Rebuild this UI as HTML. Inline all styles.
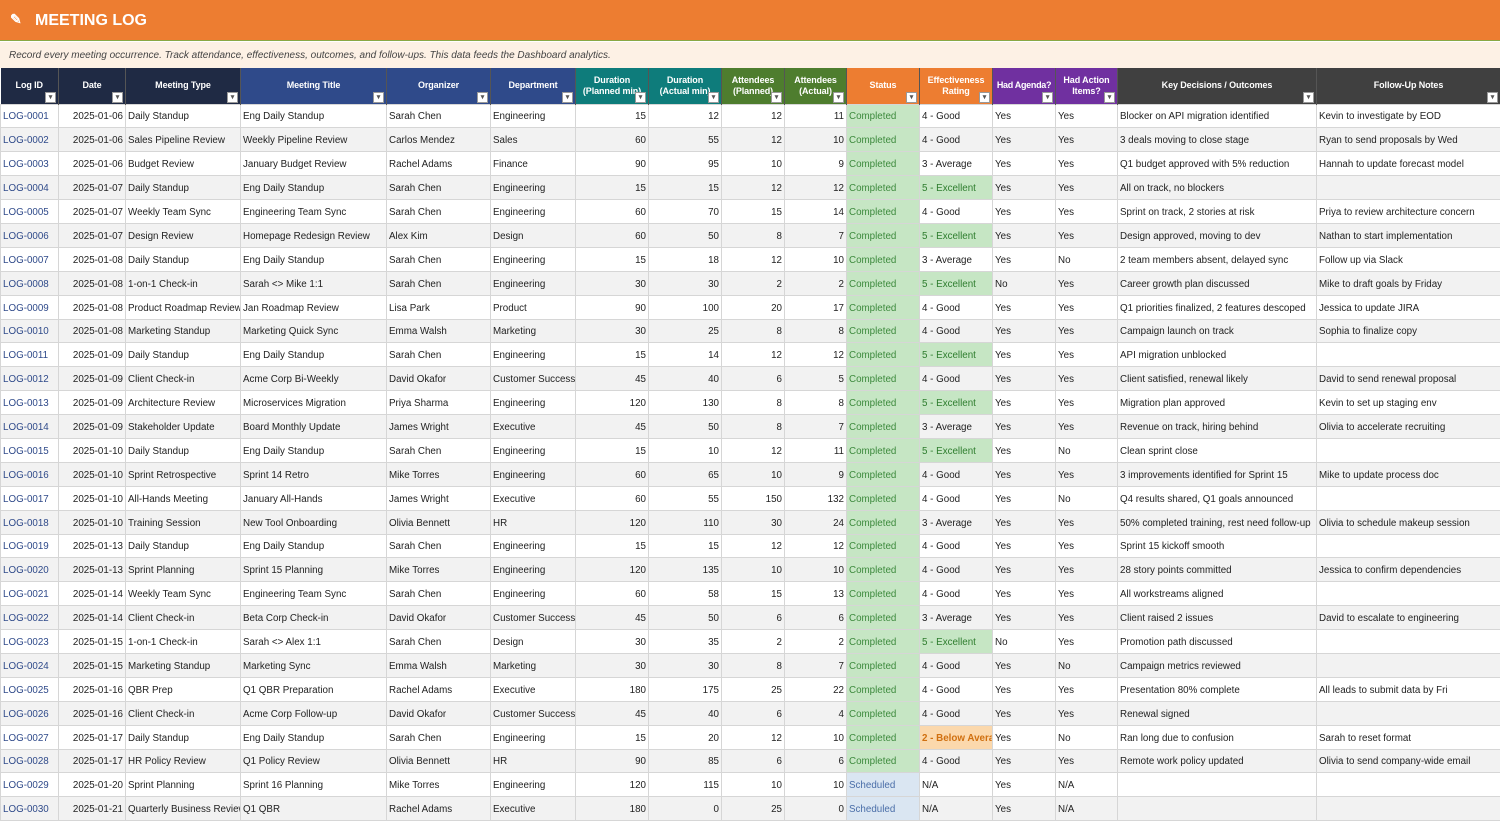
<!DOCTYPE html>
<html><head><meta charset="utf-8"><style>
*{margin:0;padding:0;box-sizing:border-box}
body{width:1500px;height:820px;overflow:hidden;background:#fff;font-family:"Liberation Sans",Arial,sans-serif;font-size:9.8px;color:#222}
.title{position:absolute;left:0;top:0;width:1500px;height:41px;background:#ED7D31;border-bottom:1px solid #8aa845;color:#fff;font-weight:bold;font-size:16px;padding:12px 0 0 35px}
.title span{position:absolute;left:10px;top:11px;font-size:14px}
.sub{position:absolute;left:0;top:42px;width:1500px;height:26px;background:#FDF1E5;font-style:italic;color:#444;font-size:10px;padding:8px 0 0 9px}
table{position:absolute;left:0;top:68px;border-collapse:collapse;table-layout:fixed;width:1500px}
th{height:36px;color:#fff;font-weight:bold;font-size:9px;text-align:center;line-height:11px;position:relative;border-right:1px solid #555;padding:0 3px;letter-spacing:-0.1px}
th i{position:absolute;right:2px;bottom:1px;width:11px;height:11px;background:#fff;border:1px solid #999;font-style:normal;color:#555;font-size:7px;line-height:9px}
td{height:23.9px;border:1px solid #d6d6d6;padding:2px 2px 0;white-space:nowrap;overflow:hidden}
tr:nth-child(odd) td{background:#F2F2F2}
td.n{text-align:right}
td.id{color:#2F4A8A}
tr td.st{background:#C6E6C4;color:#3d8a3d}
tr td.sc{background:#DAE6F2;color:#4a6ea8}
tr td.ex{background:#C6E6C4;color:#2e7d2e}
tr td.ba{background:#FBD8AC;color:#D07010;font-weight:bold}
.a{background:#1F2A44}.b{background:#2F4A8A}.c{background:#0E7C7B}.d{background:#4E7D2E}.e{background:#ED7D31}.f{background:#7030A0}.g{background:#404040}
</style></head><body>
<div class="title"><span>&#9998;</span>MEETING LOG</div>
<div class="sub">Record every meeting occurrence. Track attendance, effectiveness, outcomes, and follow-ups. This data feeds the Dashboard analytics.</div>
<table>
<colgroup><col style="width:58px"><col style="width:67px"><col style="width:115px"><col style="width:146px"><col style="width:104px"><col style="width:85px"><col style="width:73px"><col style="width:73px"><col style="width:63px"><col style="width:62px"><col style="width:73px"><col style="width:73px"><col style="width:63px"><col style="width:62px"><col style="width:199px"><col style="width:184px"></colgroup>
<tr><th class="a">Log ID<i>▾</i></th><th class="a">Date<i>▾</i></th><th class="a">Meeting Type<i>▾</i></th><th class="b">Meeting Title<i>▾</i></th><th class="b">Organizer<i>▾</i></th><th class="b">Department<i>▾</i></th><th class="c">Duration<br>(Planned min)<i>▾</i></th><th class="c">Duration<br>(Actual min)<i>▾</i></th><th class="d">Attendees<br>(Planned)<i>▾</i></th><th class="d">Attendees<br>(Actual)<i>▾</i></th><th class="e">Status<i>▾</i></th><th class="e">Effectiveness<br>Rating<i>▾</i></th><th class="f" style="white-space:nowrap;padding:0 1px;letter-spacing:-0.3px">Had Agenda?<i>▾</i></th><th class="f">Had Action<br>Items?<i>▾</i></th><th class="g">Key Decisions / Outcomes<i>▾</i></th><th class="g">Follow-Up Notes<i>▾</i></th></tr>
<tr><td class="id">LOG-0001</td><td class="n">2025-01-06</td><td>Daily Standup</td><td>Eng Daily Standup</td><td>Sarah Chen</td><td>Engineering</td><td class="n">15</td><td class="n">12</td><td class="n">12</td><td class="n">11</td><td class="st">Completed</td><td>4 - Good</td><td>Yes</td><td>Yes</td><td>Blocker on API migration identified</td><td>Kevin to investigate by EOD</td></tr>
<tr><td class="id">LOG-0002</td><td class="n">2025-01-06</td><td>Sales Pipeline Review</td><td>Weekly Pipeline Review</td><td>Carlos Mendez</td><td>Sales</td><td class="n">60</td><td class="n">55</td><td class="n">12</td><td class="n">10</td><td class="st">Completed</td><td>4 - Good</td><td>Yes</td><td>Yes</td><td>3 deals moving to close stage</td><td>Ryan to send proposals by Wed</td></tr>
<tr><td class="id">LOG-0003</td><td class="n">2025-01-06</td><td>Budget Review</td><td>January Budget Review</td><td>Rachel Adams</td><td>Finance</td><td class="n">90</td><td class="n">95</td><td class="n">10</td><td class="n">9</td><td class="st">Completed</td><td>3 - Average</td><td>Yes</td><td>Yes</td><td>Q1 budget approved with 5% reduction</td><td>Hannah to update forecast model</td></tr>
<tr><td class="id">LOG-0004</td><td class="n">2025-01-07</td><td>Daily Standup</td><td>Eng Daily Standup</td><td>Sarah Chen</td><td>Engineering</td><td class="n">15</td><td class="n">15</td><td class="n">12</td><td class="n">12</td><td class="st">Completed</td><td class="ex">5 - Excellent</td><td>Yes</td><td>Yes</td><td>All on track, no blockers</td><td></td></tr>
<tr><td class="id">LOG-0005</td><td class="n">2025-01-07</td><td>Weekly Team Sync</td><td>Engineering Team Sync</td><td>Sarah Chen</td><td>Engineering</td><td class="n">60</td><td class="n">70</td><td class="n">15</td><td class="n">14</td><td class="st">Completed</td><td>4 - Good</td><td>Yes</td><td>Yes</td><td>Sprint on track, 2 stories at risk</td><td>Priya to review architecture concern</td></tr>
<tr><td class="id">LOG-0006</td><td class="n">2025-01-07</td><td>Design Review</td><td>Homepage Redesign Review</td><td>Alex Kim</td><td>Design</td><td class="n">60</td><td class="n">50</td><td class="n">8</td><td class="n">7</td><td class="st">Completed</td><td class="ex">5 - Excellent</td><td>Yes</td><td>Yes</td><td>Design approved, moving to dev</td><td>Nathan to start implementation</td></tr>
<tr><td class="id">LOG-0007</td><td class="n">2025-01-08</td><td>Daily Standup</td><td>Eng Daily Standup</td><td>Sarah Chen</td><td>Engineering</td><td class="n">15</td><td class="n">18</td><td class="n">12</td><td class="n">10</td><td class="st">Completed</td><td>3 - Average</td><td>Yes</td><td>No</td><td>2 team members absent, delayed sync</td><td>Follow up via Slack</td></tr>
<tr><td class="id">LOG-0008</td><td class="n">2025-01-08</td><td>1-on-1 Check-in</td><td>Sarah &lt;&gt; Mike 1:1</td><td>Sarah Chen</td><td>Engineering</td><td class="n">30</td><td class="n">30</td><td class="n">2</td><td class="n">2</td><td class="st">Completed</td><td class="ex">5 - Excellent</td><td>No</td><td>Yes</td><td>Career growth plan discussed</td><td>Mike to draft goals by Friday</td></tr>
<tr><td class="id">LOG-0009</td><td class="n">2025-01-08</td><td>Product Roadmap Review</td><td>Jan Roadmap Review</td><td>Lisa Park</td><td>Product</td><td class="n">90</td><td class="n">100</td><td class="n">20</td><td class="n">17</td><td class="st">Completed</td><td>4 - Good</td><td>Yes</td><td>Yes</td><td>Q1 priorities finalized, 2 features descoped</td><td>Jessica to update JIRA</td></tr>
<tr><td class="id">LOG-0010</td><td class="n">2025-01-08</td><td>Marketing Standup</td><td>Marketing Quick Sync</td><td>Emma Walsh</td><td>Marketing</td><td class="n">30</td><td class="n">25</td><td class="n">8</td><td class="n">8</td><td class="st">Completed</td><td>4 - Good</td><td>Yes</td><td>Yes</td><td>Campaign launch on track</td><td>Sophia to finalize copy</td></tr>
<tr><td class="id">LOG-0011</td><td class="n">2025-01-09</td><td>Daily Standup</td><td>Eng Daily Standup</td><td>Sarah Chen</td><td>Engineering</td><td class="n">15</td><td class="n">14</td><td class="n">12</td><td class="n">12</td><td class="st">Completed</td><td class="ex">5 - Excellent</td><td>Yes</td><td>Yes</td><td>API migration unblocked</td><td></td></tr>
<tr><td class="id">LOG-0012</td><td class="n">2025-01-09</td><td>Client Check-in</td><td>Acme Corp Bi-Weekly</td><td>David Okafor</td><td>Customer Success</td><td class="n">45</td><td class="n">40</td><td class="n">6</td><td class="n">5</td><td class="st">Completed</td><td>4 - Good</td><td>Yes</td><td>Yes</td><td>Client satisfied, renewal likely</td><td>David to send renewal proposal</td></tr>
<tr><td class="id">LOG-0013</td><td class="n">2025-01-09</td><td>Architecture Review</td><td>Microservices Migration</td><td>Priya Sharma</td><td>Engineering</td><td class="n">120</td><td class="n">130</td><td class="n">8</td><td class="n">8</td><td class="st">Completed</td><td class="ex">5 - Excellent</td><td>Yes</td><td>Yes</td><td>Migration plan approved</td><td>Kevin to set up staging env</td></tr>
<tr><td class="id">LOG-0014</td><td class="n">2025-01-09</td><td>Stakeholder Update</td><td>Board Monthly Update</td><td>James Wright</td><td>Executive</td><td class="n">45</td><td class="n">50</td><td class="n">8</td><td class="n">7</td><td class="st">Completed</td><td>3 - Average</td><td>Yes</td><td>Yes</td><td>Revenue on track, hiring behind</td><td>Olivia to accelerate recruiting</td></tr>
<tr><td class="id">LOG-0015</td><td class="n">2025-01-10</td><td>Daily Standup</td><td>Eng Daily Standup</td><td>Sarah Chen</td><td>Engineering</td><td class="n">15</td><td class="n">10</td><td class="n">12</td><td class="n">11</td><td class="st">Completed</td><td class="ex">5 - Excellent</td><td>Yes</td><td>No</td><td>Clean sprint close</td><td></td></tr>
<tr><td class="id">LOG-0016</td><td class="n">2025-01-10</td><td>Sprint Retrospective</td><td>Sprint 14 Retro</td><td>Mike Torres</td><td>Engineering</td><td class="n">60</td><td class="n">65</td><td class="n">10</td><td class="n">9</td><td class="st">Completed</td><td>4 - Good</td><td>Yes</td><td>Yes</td><td>3 improvements identified for Sprint 15</td><td>Mike to update process doc</td></tr>
<tr><td class="id">LOG-0017</td><td class="n">2025-01-10</td><td>All-Hands Meeting</td><td>January All-Hands</td><td>James Wright</td><td>Executive</td><td class="n">60</td><td class="n">55</td><td class="n">150</td><td class="n">132</td><td class="st">Completed</td><td>4 - Good</td><td>Yes</td><td>No</td><td>Q4 results shared, Q1 goals announced</td><td></td></tr>
<tr><td class="id">LOG-0018</td><td class="n">2025-01-10</td><td>Training Session</td><td>New Tool Onboarding</td><td>Olivia Bennett</td><td>HR</td><td class="n">120</td><td class="n">110</td><td class="n">30</td><td class="n">24</td><td class="st">Completed</td><td>3 - Average</td><td>Yes</td><td>Yes</td><td>50% completed training, rest need follow-up</td><td>Olivia to schedule makeup session</td></tr>
<tr><td class="id">LOG-0019</td><td class="n">2025-01-13</td><td>Daily Standup</td><td>Eng Daily Standup</td><td>Sarah Chen</td><td>Engineering</td><td class="n">15</td><td class="n">15</td><td class="n">12</td><td class="n">12</td><td class="st">Completed</td><td>4 - Good</td><td>Yes</td><td>Yes</td><td>Sprint 15 kickoff smooth</td><td></td></tr>
<tr><td class="id">LOG-0020</td><td class="n">2025-01-13</td><td>Sprint Planning</td><td>Sprint 15 Planning</td><td>Mike Torres</td><td>Engineering</td><td class="n">120</td><td class="n">135</td><td class="n">10</td><td class="n">10</td><td class="st">Completed</td><td>4 - Good</td><td>Yes</td><td>Yes</td><td>28 story points committed</td><td>Jessica to confirm dependencies</td></tr>
<tr><td class="id">LOG-0021</td><td class="n">2025-01-14</td><td>Weekly Team Sync</td><td>Engineering Team Sync</td><td>Sarah Chen</td><td>Engineering</td><td class="n">60</td><td class="n">58</td><td class="n">15</td><td class="n">13</td><td class="st">Completed</td><td>4 - Good</td><td>Yes</td><td>Yes</td><td>All workstreams aligned</td><td></td></tr>
<tr><td class="id">LOG-0022</td><td class="n">2025-01-14</td><td>Client Check-in</td><td>Beta Corp Check-in</td><td>David Okafor</td><td>Customer Success</td><td class="n">45</td><td class="n">50</td><td class="n">6</td><td class="n">6</td><td class="st">Completed</td><td>3 - Average</td><td>Yes</td><td>Yes</td><td>Client raised 2 issues</td><td>David to escalate to engineering</td></tr>
<tr><td class="id">LOG-0023</td><td class="n">2025-01-15</td><td>1-on-1 Check-in</td><td>Sarah &lt;&gt; Alex 1:1</td><td>Sarah Chen</td><td>Design</td><td class="n">30</td><td class="n">35</td><td class="n">2</td><td class="n">2</td><td class="st">Completed</td><td class="ex">5 - Excellent</td><td>No</td><td>Yes</td><td>Promotion path discussed</td><td></td></tr>
<tr><td class="id">LOG-0024</td><td class="n">2025-01-15</td><td>Marketing Standup</td><td>Marketing Sync</td><td>Emma Walsh</td><td>Marketing</td><td class="n">30</td><td class="n">30</td><td class="n">8</td><td class="n">7</td><td class="st">Completed</td><td>4 - Good</td><td>Yes</td><td>No</td><td>Campaign metrics reviewed</td><td></td></tr>
<tr><td class="id">LOG-0025</td><td class="n">2025-01-16</td><td>QBR Prep</td><td>Q1 QBR Preparation</td><td>Rachel Adams</td><td>Executive</td><td class="n">180</td><td class="n">175</td><td class="n">25</td><td class="n">22</td><td class="st">Completed</td><td>4 - Good</td><td>Yes</td><td>Yes</td><td>Presentation 80% complete</td><td>All leads to submit data by Fri</td></tr>
<tr><td class="id">LOG-0026</td><td class="n">2025-01-16</td><td>Client Check-in</td><td>Acme Corp Follow-up</td><td>David Okafor</td><td>Customer Success</td><td class="n">45</td><td class="n">40</td><td class="n">6</td><td class="n">4</td><td class="st">Completed</td><td>4 - Good</td><td>Yes</td><td>Yes</td><td>Renewal signed</td><td></td></tr>
<tr><td class="id">LOG-0027</td><td class="n">2025-01-17</td><td>Daily Standup</td><td>Eng Daily Standup</td><td>Sarah Chen</td><td>Engineering</td><td class="n">15</td><td class="n">20</td><td class="n">12</td><td class="n">10</td><td class="st">Completed</td><td class="ba">2 - Below Average</td><td>Yes</td><td>No</td><td>Ran long due to confusion</td><td>Sarah to reset format</td></tr>
<tr><td class="id">LOG-0028</td><td class="n">2025-01-17</td><td>HR Policy Review</td><td>Q1 Policy Review</td><td>Olivia Bennett</td><td>HR</td><td class="n">90</td><td class="n">85</td><td class="n">6</td><td class="n">6</td><td class="st">Completed</td><td>4 - Good</td><td>Yes</td><td>Yes</td><td>Remote work policy updated</td><td>Olivia to send company-wide email</td></tr>
<tr><td class="id">LOG-0029</td><td class="n">2025-01-20</td><td>Sprint Planning</td><td>Sprint 16 Planning</td><td>Mike Torres</td><td>Engineering</td><td class="n">120</td><td class="n">115</td><td class="n">10</td><td class="n">10</td><td class="sc">Scheduled</td><td>N/A</td><td>Yes</td><td>N/A</td><td></td><td></td></tr>
<tr><td class="id">LOG-0030</td><td class="n">2025-01-21</td><td>Quarterly Business Review</td><td>Q1 QBR</td><td>Rachel Adams</td><td>Executive</td><td class="n">180</td><td class="n">0</td><td class="n">25</td><td class="n">0</td><td class="sc">Scheduled</td><td>N/A</td><td>Yes</td><td>N/A</td><td></td><td></td></tr>
</table>
</body></html>
